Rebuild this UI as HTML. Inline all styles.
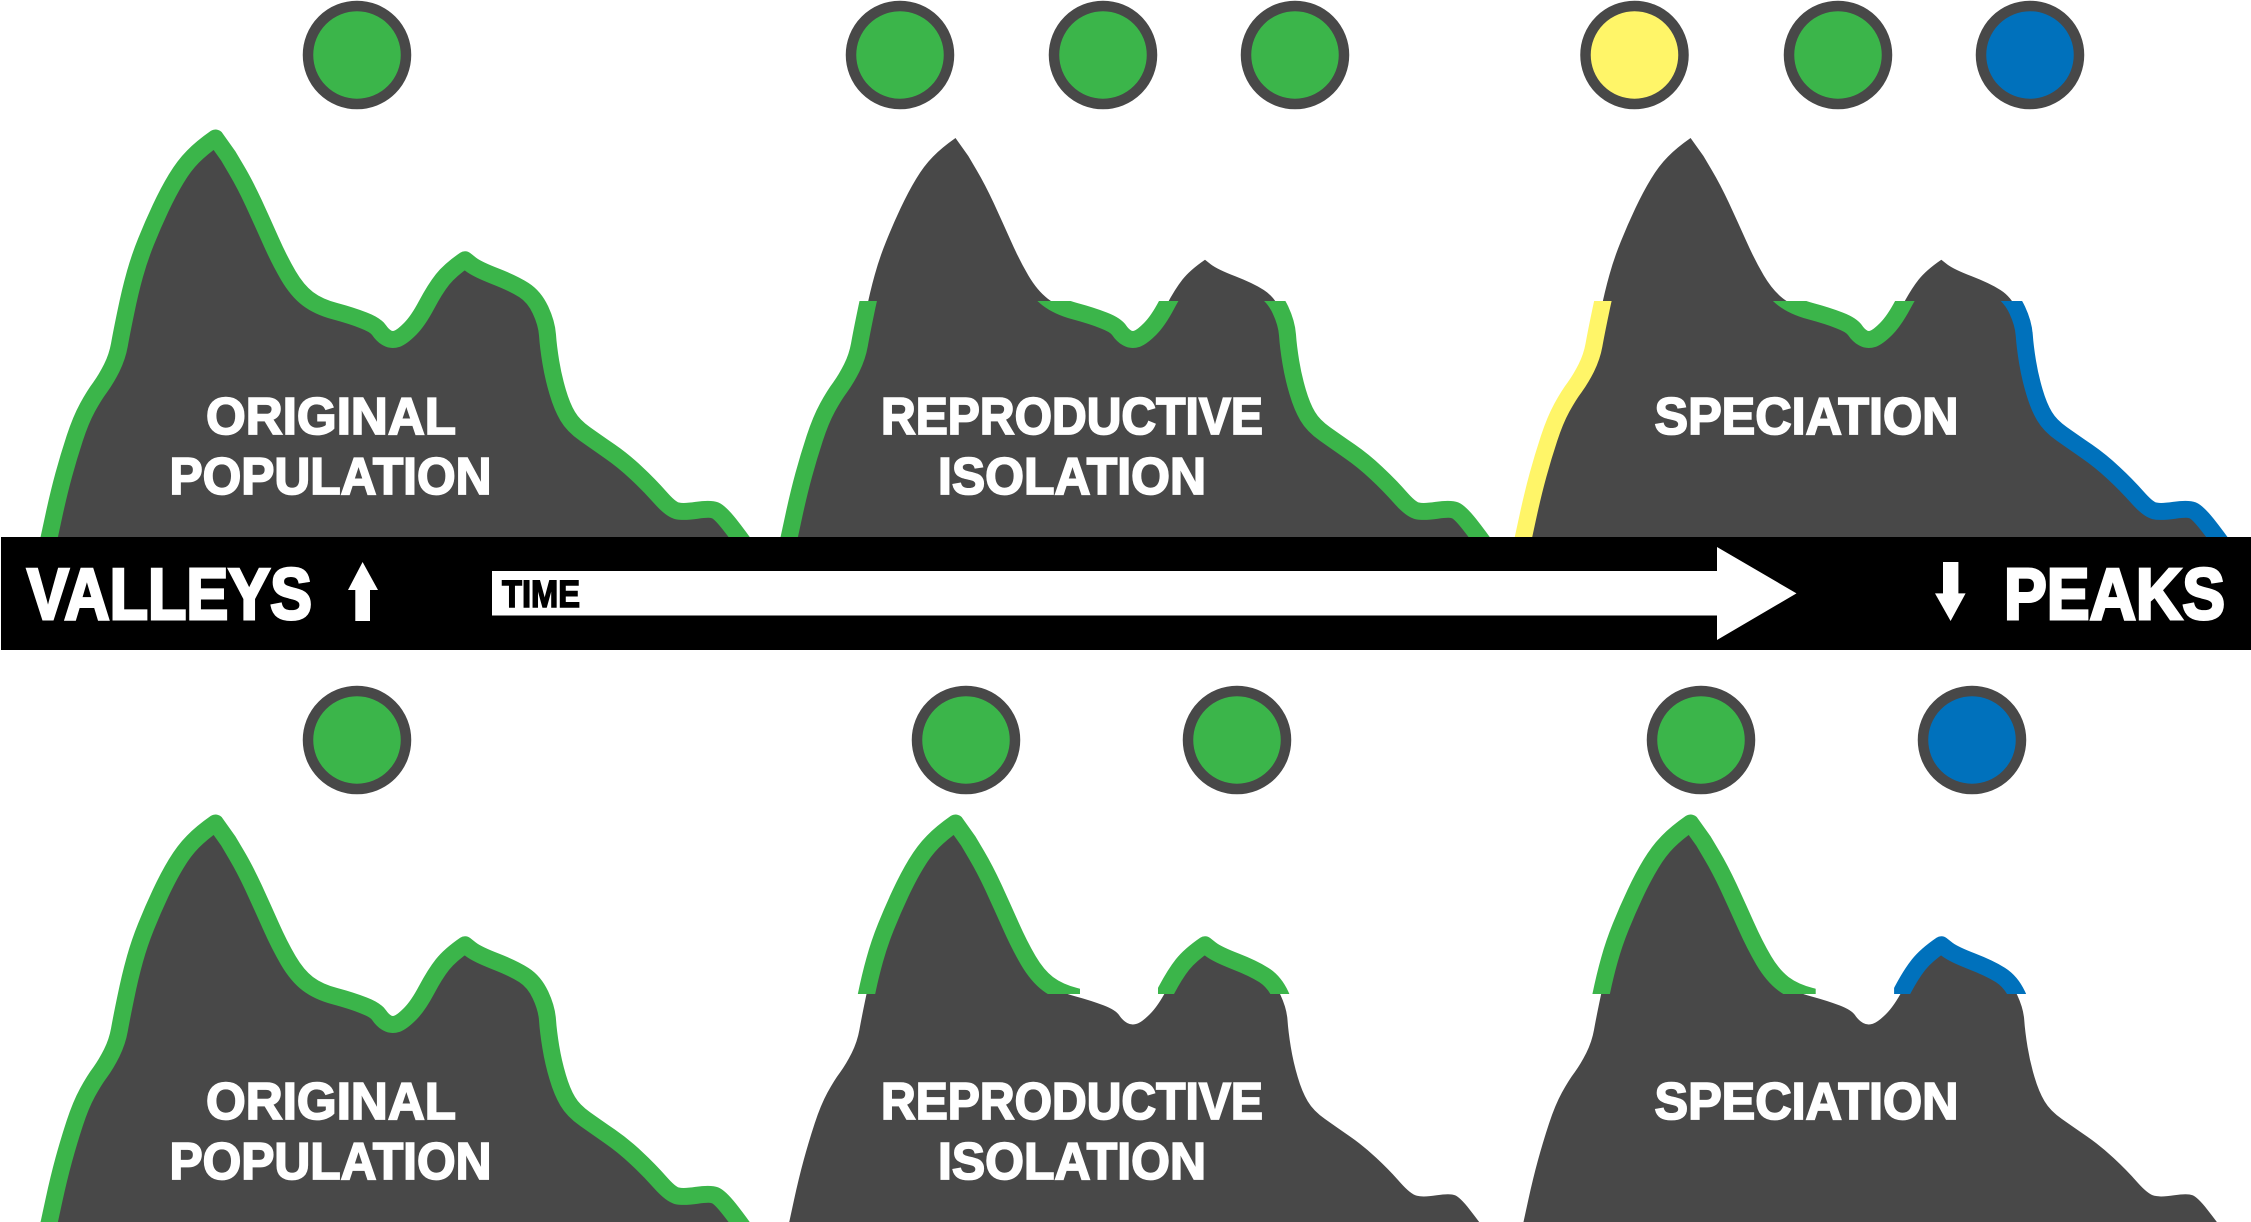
<!DOCTYPE html>
<html><head><meta charset="utf-8"><title>Speciation: valleys and peaks</title>
<style>
html,body{margin:0;padding:0;background:#fff;width:2251px;height:1222px;overflow:hidden}
svg{display:block}
text{font-family:"Liberation Sans",sans-serif;font-weight:700}
.w{fill:#fff;stroke:#fff;stroke-width:1.8px}
.s{fill:none;stroke-width:17;stroke-linejoin:round;stroke-linecap:butt}
</style></head><body>
<svg width="2251" height="1222" viewBox="0 0 2251 1222" xmlns="http://www.w3.org/2000/svg">
<defs>
<path id="ridge" d="M44 560L49.3 536.7L54 515Q58.7 493.3 63.7 475Q68.7 456.7 74.7 438.4Q80.7 420 87.5 407.5Q94.3 395 100.2 387.2Q106 379.3 111.7 368Q117.3 356.7 119.4 344.9Q121.5 333 125.8 312.4Q130 291.7 134.7 275Q139.3 258.3 146 241.7Q152.7 225 160.5 208.4Q168.3 191.7 176.2 178.7Q184 165.7 192.9 156.7Q201.7 147.7 215.5 138L228.3 156L236.6 170.1Q245 184.3 253.7 203Q262.3 221.7 270.8 240.8Q279.3 260 288.3 275.4Q297.3 290.7 307.8 298.7Q318.3 306.7 335 311.2Q351.7 315.7 363.7 320.4Q375.7 325 379.2 330.3Q382.7 335.5 387.2 338Q391.7 340.5 396.9 338.8Q402 337 410 329Q418 321 426.5 305Q435 289 442.5 279.5Q450 270 465 259.7L471 264.5Q477.3 269.3 495.3 276.3Q513.3 283.3 523.8 290Q534.3 296.7 540.5 310Q546.7 323.3 547.5 335Q548.3 346.7 550.8 362Q553.3 377.3 557.7 392Q562 406.7 567.7 416.2Q573.3 425.7 585 434Q596.7 442.3 610 451.5Q623.3 460.7 636.3 472.9Q649.3 485 660 497.2Q670.7 509.3 677 510.8Q683.3 512.3 696.7 510.3Q710 508.3 715 510.3Q720 512.3 729.4 524.2Q738.7 536 750 552"/>
<path id="mass" fill="#484848" d="M44 560L49.3 536.7L54 515Q58.7 493.3 63.7 475Q68.7 456.7 74.7 438.4Q80.7 420 87.5 407.5Q94.3 395 100.2 387.2Q106 379.3 111.7 368Q117.3 356.7 119.4 344.9Q121.5 333 125.8 312.4Q130 291.7 134.7 275Q139.3 258.3 146 241.7Q152.7 225 160.5 208.4Q168.3 191.7 176.2 178.7Q184 165.7 192.9 156.7Q201.7 147.7 215.5 138L228.3 156L236.6 170.1Q245 184.3 253.7 203Q262.3 221.7 270.8 240.8Q279.3 260 288.3 275.4Q297.3 290.7 307.8 298.7Q318.3 306.7 335 311.2Q351.7 315.7 363.7 320.4Q375.7 325 379.2 330.3Q382.7 335.5 387.2 338Q391.7 340.5 396.9 338.8Q402 337 410 329Q418 321 426.5 305Q435 289 442.5 279.5Q450 270 465 259.7L471 264.5Q477.3 269.3 495.3 276.3Q513.3 283.3 523.8 290Q534.3 296.7 540.5 310Q546.7 323.3 547.5 335Q548.3 346.7 550.8 362Q553.3 377.3 557.7 392Q562 406.7 567.7 416.2Q573.3 425.7 585 434Q596.7 442.3 610 451.5Q623.3 460.7 636.3 472.9Q649.3 485 660 497.2Q670.7 509.3 677 510.8Q683.3 512.3 696.7 510.3Q710 508.3 715 510.3Q720 512.3 729.4 524.2Q738.7 536 750 552Z"/>
<clipPath id="lower"><rect x="0" y="301" width="800" height="300"/></clipPath>
<clipPath id="upper"><rect x="0" y="0" width="340" height="309"/><rect x="418" y="0" width="382" height="309"/></clipPath>
<clipPath id="lowL"><rect x="0" y="301" width="230" height="300"/></clipPath>
<clipPath id="lowM"><rect x="230" y="301" width="235" height="300"/></clipPath>
<clipPath id="lowR"><rect x="465" y="301" width="335" height="300"/></clipPath>
<clipPath id="upL"><rect x="0" y="0" width="340" height="309"/></clipPath>
<clipPath id="upR"><rect x="418" y="0" width="382" height="309"/></clipPath>
</defs>

<!-- TOP ROW -->
<use href="#mass"/>
<use href="#mass" x="740"/>
<use href="#ridge" class="s" stroke="#3BB54A"/>
<g transform="translate(740 0)"><g clip-path="url(#lower)"><use href="#ridge" class="s" stroke="#3BB54A"/></g></g>
<g transform="translate(1474 0) scale(1.005 1)">
<use href="#mass"/>
<g clip-path="url(#lowL)"><use href="#ridge" class="s" stroke="#FFF568"/></g>
<g clip-path="url(#lowM)"><use href="#ridge" class="s" stroke="#3BB54A"/></g>
<g clip-path="url(#lowR)"><use href="#ridge" class="s" stroke="#0071BC"/></g>
</g>

<g stroke="#484848" stroke-width="10.5" fill="#3BB54A">
<circle cx="357" cy="55" r="49"/>
<circle cx="900" cy="55" r="49"/>
<circle cx="1103" cy="55" r="49"/>
<circle cx="1295" cy="55" r="49"/>
<circle cx="1634.5" cy="55" r="49" fill="#FFF568"/>
<circle cx="1838" cy="55" r="49"/>
<circle cx="2030" cy="55" r="49" fill="#0071BC"/>
</g>

<g font-size="52">
<text class="w" x="206" y="434" textLength="250" lengthAdjust="spacingAndGlyphs">ORIGINAL</text>
<text class="w" x="169.5" y="494" textLength="322" lengthAdjust="spacingAndGlyphs">POPULATION</text>
<text class="w" x="881" y="434" textLength="382" lengthAdjust="spacingAndGlyphs">REPRODUCTIVE</text>
<text class="w" x="938" y="494" textLength="268" lengthAdjust="spacingAndGlyphs">ISOLATION</text>
<text class="w" x="1654.5" y="434" textLength="304" lengthAdjust="spacingAndGlyphs">SPECIATION</text>
</g>

<!-- BOTTOM ROW -->
<g transform="translate(0 685)">
<use href="#mass"/>
<use href="#ridge" class="s" stroke="#3BB54A"/>
<g transform="translate(740 0)">
<use href="#mass"/>
<g clip-path="url(#upper)"><use href="#ridge" class="s" stroke="#3BB54A"/></g>
</g>
<g transform="translate(1474 0) scale(1.005 1)">
<use href="#mass"/>
<g clip-path="url(#upL)"><use href="#ridge" class="s" stroke="#3BB54A"/></g>
<g clip-path="url(#upR)"><use href="#ridge" class="s" stroke="#0071BC"/></g>
</g>
<g stroke="#484848" stroke-width="10.5" fill="#3BB54A">
<circle cx="357" cy="55" r="49"/>
<circle cx="966" cy="55" r="49"/>
<circle cx="1237" cy="55" r="49"/>
<circle cx="1701" cy="55" r="49"/>
<circle cx="1972" cy="55" r="49" fill="#0071BC"/>
</g>
<g font-size="52">
<text class="w" x="206" y="434" textLength="250" lengthAdjust="spacingAndGlyphs">ORIGINAL</text>
<text class="w" x="169.5" y="494" textLength="322" lengthAdjust="spacingAndGlyphs">POPULATION</text>
<text class="w" x="881" y="434" textLength="382" lengthAdjust="spacingAndGlyphs">REPRODUCTIVE</text>
<text class="w" x="938" y="494" textLength="268" lengthAdjust="spacingAndGlyphs">ISOLATION</text>
<text class="w" x="1654.5" y="434" textLength="304" lengthAdjust="spacingAndGlyphs">SPECIATION</text>
</g>
</g>

<!-- BAR -->
<rect x="1" y="537" width="2250" height="113" fill="#000"/>
<text x="27" y="619" font-size="72" fill="#fff" stroke="#fff" stroke-width="3" textLength="285" lengthAdjust="spacingAndGlyphs">VALLEYS</text>
<text x="2004" y="619" font-size="72" fill="#fff" stroke="#fff" stroke-width="3" textLength="221" lengthAdjust="spacingAndGlyphs">PEAKS</text>
<polygon fill="#fff" points="492,571 1717,571 1717,547 1796.5,593.4 1717,640 1717,615.5 492,615.5"/>
<text x="502" y="607" font-size="38" fill="#000" stroke="#000" stroke-width="1.5" textLength="78" lengthAdjust="spacingAndGlyphs">TIME</text>
<polygon fill="#fff" points="362.6,562 378,590 370,590 370,621 355.3,621 355.3,590 348,590"/>
<polygon fill="#fff" points="1943,562 1958.4,562 1958.4,593.4 1965.6,593.4 1950.6,621 1935,593.4 1943,593.4"/>
</svg>
</body></html>
